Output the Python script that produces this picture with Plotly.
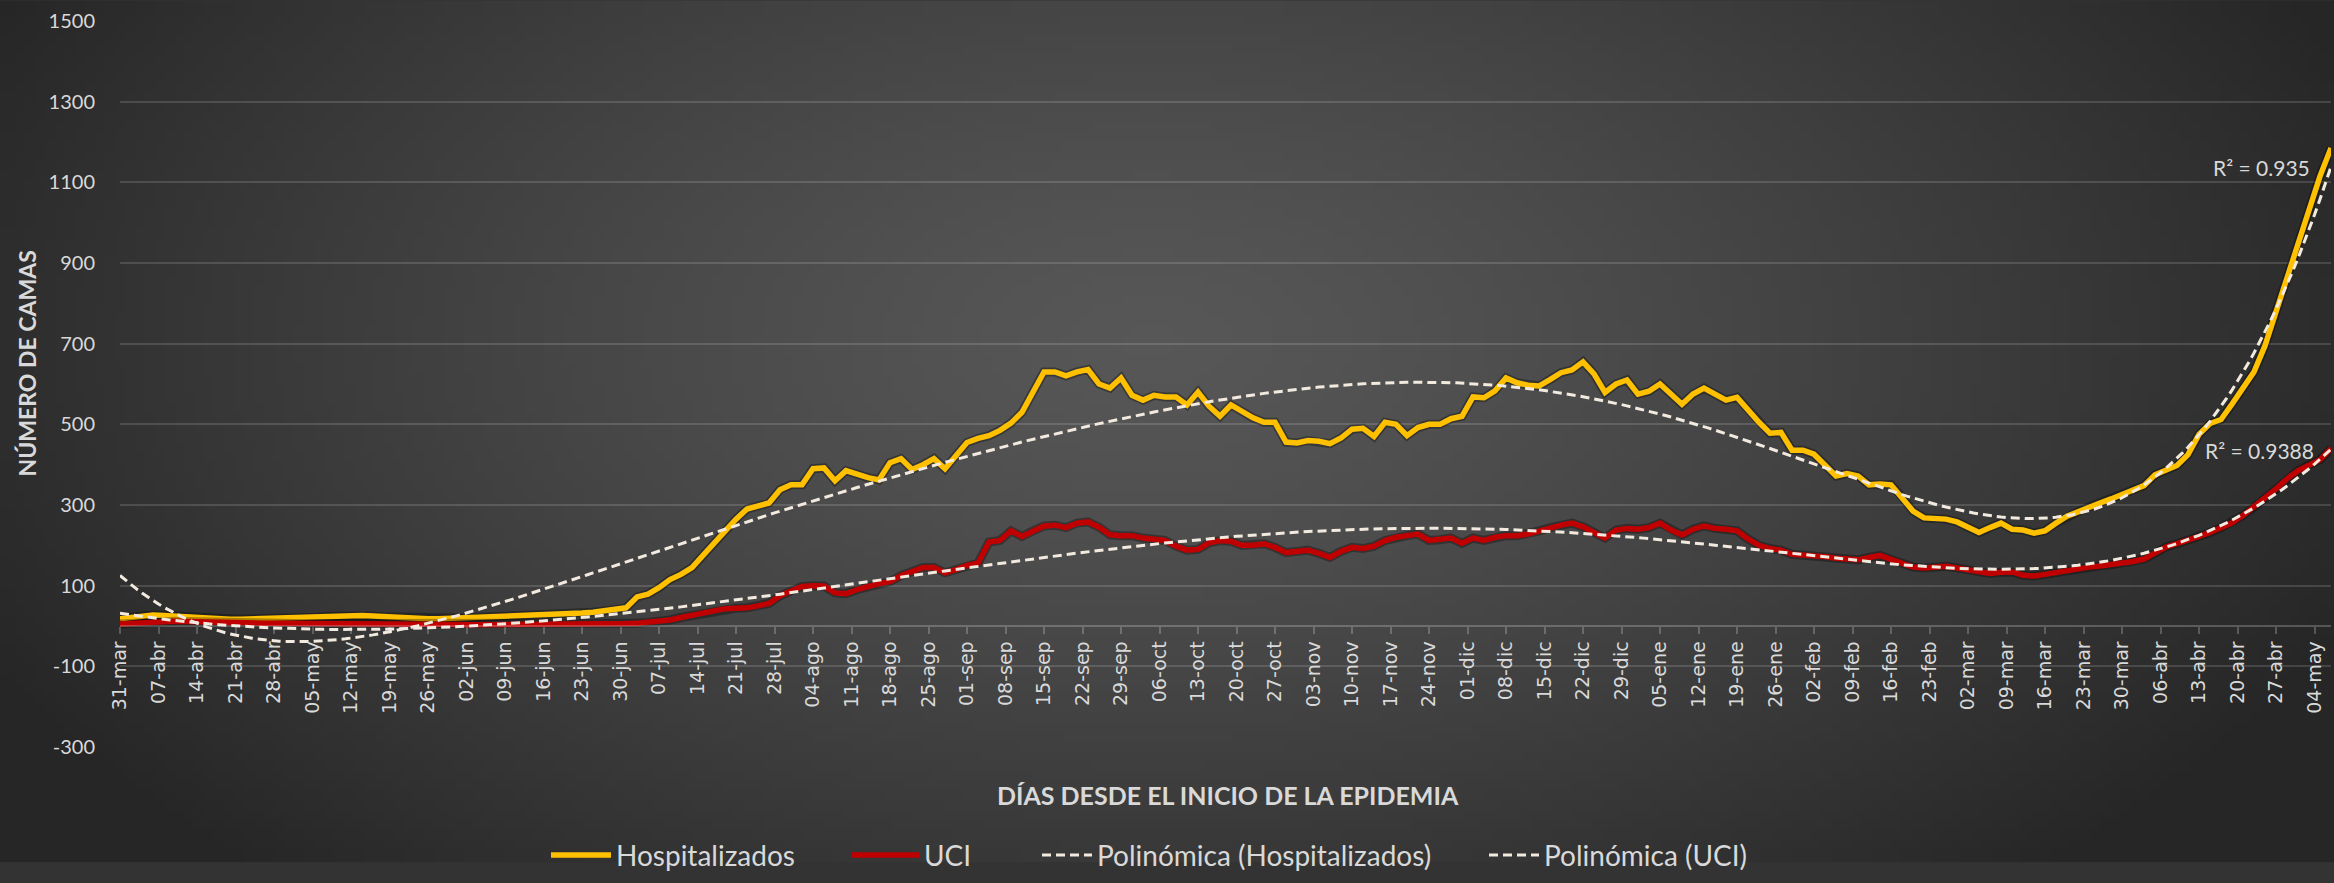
import base64
import math
import struct
import zlib

import numpy as np
import pandas as pd
import plotly.graph_objects as go

# ---------------- data ----------------
START_DATE = "2020-03-31"
SAMPLE_STEP = "2D"          # one reading every two days
AXIS_END = "2021-05-07"
TICK_END = "2021-05-04"
MESES = ["ene", "feb", "mar", "abr", "may", "jun", "jul", "ago", "sep", "oct", "nov", "dic"]
Y_TICKS = [-300, -100, 100, 300, 500, 700, 900, 1100, 1300, 1500]
Y_TICK_TEXT = ["-300", "-100", "100", "300", "500", "700", "900", "1100", "1300", "1500"]

hospitalizados = [
    18, 22, 25, 27, 26, 24, 22, 20, 19, 18, 17, 17, 18, 18, 19, 20, 21, 21, 22, 24,
    25, 26, 26, 25, 23, 22, 21, 19, 18, 18, 19, 20, 21, 22,
    21, 22, 23, 24, 25, 27, 28, 30, 32, 34, 37, 40, 45, 72, 79, 95, 115, 128, 145, 175,
    206, 236, 265, 290, 297, 305, 338, 350, 350, 390, 392, 360, 385, 375, 368,
    362, 405, 415, 388, 400, 415, 390, 425, 455, 465, 472, 485, 503, 530, 580, 630, 630,
    620, 630, 636, 600, 590, 615, 572, 560, 572, 568, 568, 548, 580, 545, 520, 548, 530, 516,
    505, 505, 456, 454, 460, 458, 452, 466, 488, 490, 470, 505, 500, 472, 492, 500, 500,
    514, 520, 568, 566, 583, 615, 603, 597, 595, 611, 628, 635, 655, 625, 579, 600, 610, 575,
    582, 600, 575, 550, 575, 590, 575, 560, 567, 535, 505, 478, 480, 436, 436, 426, 400,
    372, 378, 372, 350, 352, 350, 320, 285, 268, 268, 265, 258, 245, 232, 244, 255, 240,
    238, 230, 236, 255, 272, 283, 295, 305, 315, 326, 340, 348, 375, 388, 398, 425, 475,
    502, 512, 550, 590, 630, 695, 780, 860, 940, 1030, 1115, 1185,
]

uci = [
    5, 7, 9, 10, 11, 12, 11, 10, 9, 9, 8, 8, 7, 7, 7, 7, 6, 6, 6, 6,
    6, 6, 5, 5, 5, 5, 5, 4, 4, 4, 4, 4, 3, 3,
    3, 3, 3, 3, 3, 3, 3, 3, 4, 4, 5, 5, 6, 7, 9, 11, 15, 21, 26, 32,
    38, 43, 44, 45, 50, 56, 75, 88, 98, 100, 99, 82, 80, 90, 98,
    105, 110, 125, 135, 145, 145, 132, 140, 150, 156, 208, 212, 236, 222, 236, 248, 250,
    244, 255, 258, 245, 226, 224, 224, 218, 214, 212, 198, 188, 190, 206, 212, 210, 200, 200,
    204, 195, 182, 185, 188, 180, 170, 185, 195, 192, 198, 212, 220, 224, 228, 212, 214,
    218, 205, 218, 212, 220, 224, 224, 228, 236, 244, 250, 255, 246, 232, 218, 238, 242, 240,
    244, 255, 238, 226, 240, 248, 242, 240, 236, 216, 200, 192, 188, 178, 176, 176, 172,
    168, 166, 164, 170, 175, 165, 155, 146, 144, 146, 148, 144, 140, 133, 130, 133, 134,
    126, 124, 128, 133, 138, 143, 146, 149, 152, 156, 160, 166, 180, 196, 204, 212, 222,
    232, 244, 256, 274, 294, 318, 340, 365, 385, 400, 412, 440,
]

R2_HOSP = "0.935"
R2_UCI = "0.9388"
TREND_DEGREE = 6

# ---------------- derived series ----------------
dates_h = pd.date_range(START_DATE, periods=len(hospitalizados), freq=SAMPLE_STEP)
dates_u = pd.date_range(START_DATE, periods=len(uci), freq=SAMPLE_STEP)
trend_dates = pd.date_range(START_DATE, AXIS_END, freq="D")
t0 = pd.Timestamp(START_DATE)
span = float((trend_dates[-1] - t0).days)


def poly_trend(dates, values):
    t = np.array([(d - t0).days for d in dates], dtype=float) / span
    coef = np.polyfit(t, np.asarray(values, dtype=float), TREND_DEGREE)
    tt = np.array([(d - t0).days for d in trend_dates], dtype=float) / span
    return np.polyval(coef, tt)


trend_h = poly_trend(dates_h, hospitalizados)
trend_u = poly_trend(dates_u, uci)

tick_dates = pd.date_range(START_DATE, TICK_END, freq="7D")
tick_text = [f"{d.day:02d}-{MESES[d.month - 1]}" for d in tick_dates]

# ---------------- background gradient image ----------------
W, H = 2334, 883
ML, MR, MT, MB = 120, 3, 21, 118
PW, PH = W - ML - MR, H - MT - MB


def gradient_png(w, h):
    cx, cy, rx, ry = 1150.0, 350.0, 1300.0, 750.0
    c_in, c_out = 0x57, 0x26
    rows = []
    for j in range(h):
        py = (j + 0.5) / h * H
        row = bytearray([0])
        for i in range(w):
            px = (i + 0.5) / w * W
            r = min(math.hypot((px - cx) / rx, (py - cy) / ry), 1.0)
            v = int(round(c_in + (c_out - c_in) * r ** 1.3))
            row += bytes((v, v, v))
        rows.append(bytes(row))
    raw = b"".join(rows)

    def chunk(tag, data):
        c = struct.pack(">I", len(data)) + tag + data
        return c + struct.pack(">I", zlib.crc32(tag + data) & 0xFFFFFFFF)

    png = (b"\x89PNG\r\n\x1a\n"
           + chunk(b"IHDR", struct.pack(">IIBBBBB", w, h, 8, 2, 0, 0, 0))
           + chunk(b"IDAT", zlib.compress(raw, 9))
           + chunk(b"IEND", b""))
    return "data:image/png;base64," + base64.b64encode(png).decode()


bg_src = gradient_png(234, 89)

# ---------------- figure ----------------
TXT = "#d9d9d9"
SHADOW = "rgba(0,0,0,0.32)"
TREND_COLOR = "#F3EADF"
fig = go.Figure()
fig.add_trace(go.Scatter(x=dates_h, y=hospitalizados, mode="lines", showlegend=False,
                         line=dict(color=SHADOW, width=9), hoverinfo="skip"))
fig.add_trace(go.Scatter(x=dates_h, y=hospitalizados, mode="lines", name="Hospitalizados",
                         line=dict(color="#FFC000", width=5.5), legend="legend"))
fig.add_trace(go.Scatter(x=dates_u, y=uci, mode="lines", showlegend=False,
                         line=dict(color=SHADOW, width=9), hoverinfo="skip"))
fig.add_trace(go.Scatter(x=dates_u, y=uci, mode="lines", name="UCI",
                         line=dict(color="#C00000", width=5.5), legend="legend2"))
fig.add_trace(go.Scatter(x=trend_dates, y=trend_h, mode="lines", name="Polinómica (Hospitalizados)",
                         line=dict(color=TREND_COLOR, width=3, dash="9px,5px"), legend="legend3"))
fig.add_trace(go.Scatter(x=trend_dates, y=trend_u, mode="lines", name="Polinómica (UCI)",
                         line=dict(color=TREND_COLOR, width=3, dash="9px,5px"), legend="legend4"))


def px_x(px):
    return (px - ML) / PW


def px_y(py):
    return (H - MB - py) / PH


leg_font = dict(family="Lato", size=28, color=TXT)
leg_common = dict(orientation="h", yanchor="middle", xanchor="left", y=px_y(876),
                  bgcolor="rgba(0,0,0,0)", font=leg_font, visible=True)

fig.update_layout(
    width=W, height=H, autosize=False,
    margin=dict(l=ML, r=MR, t=MT, b=MB, pad=0),
    paper_bgcolor="#333333", plot_bgcolor="rgba(0,0,0,0)",
    hovermode=False, showlegend=True,
    images=[dict(source=bg_src, xref="paper", yref="paper",
                 x=px_x(0), y=px_y(0), sizex=W / PW, sizey=H / PH,
                 xanchor="left", yanchor="top", sizing="stretch", layer="below")],
    xaxis=dict(type="date", range=[START_DATE, AXIS_END], anchor="free",
               position=300 / 1800, showgrid=False, zeroline=False,
               showline=True, linecolor="rgba(255,255,255,0.22)", linewidth=1.5,
               ticks="outside", ticklen=7, tickwidth=1.5, tickcolor="rgba(255,255,255,0.22)",
               tickmode="array", tickvals=tick_dates, ticktext=tick_text, tickangle=-90,
               tickfont=dict(family="DejaVu Sans", size=19, color=TXT), automargin=False),
    yaxis=dict(range=[-300, 1500], tickmode="array", tickvals=Y_TICKS, ticktext=Y_TICK_TEXT,
               showgrid=True, gridcolor="rgba(255,255,255,0.14)", gridwidth=1.5, zeroline=False,
               showline=False, ticks="outside", ticklen=20, tickcolor="rgba(0,0,0,0)",
               tickfont=dict(family="Lato", size=20, color=TXT), automargin=False),
    legend=dict(x=px_x(546), itemwidth=60, **leg_common),
    legend2=dict(x=px_x(846), itemwidth=68, **leg_common),
    legend3=dict(x=px_x(1037), itemwidth=50, **leg_common),
    legend4=dict(x=px_x(1484), itemwidth=50, **leg_common),
    annotations=[
        dict(text="<b>NÚMERO DE CAMAS</b>", xref="paper", yref="paper", x=px_x(27), y=px_y(372),
             textangle=-90, showarrow=False, xanchor="center", yanchor="middle",
             font=dict(family="Lato", size=23, color=TXT)),
        dict(text="<b>DÍAS DESDE EL INICIO DE LA EPIDEMIA</b>", xref="paper", yref="paper",
             x=px_x(1228), y=px_y(814), showarrow=False, xanchor="center", yanchor="middle",
             font=dict(family="Lato", size=25, color=TXT)),
        dict(text=f"R² = {R2_HOSP}", xref="paper", yref="paper", x=px_x(2312), y=px_y(171),
             showarrow=False, xanchor="right", yanchor="middle",
             font=dict(family="Lato", size=21, color=TXT)),
        dict(text=f"R² = {R2_UCI}", xref="paper", yref="paper", x=px_x(2316), y=px_y(461),
             showarrow=False, xanchor="right", yanchor="middle",
             font=dict(family="Lato", size=21, color=TXT)),
    ],
)

fig.write_html(
    "out.html",
    config={"displayModeBar": False},
    post_script=("document.body.style.margin='0';"
                 "document.body.style.overflow='hidden';"
                 "document.documentElement.style.overflow='hidden';"),
)
